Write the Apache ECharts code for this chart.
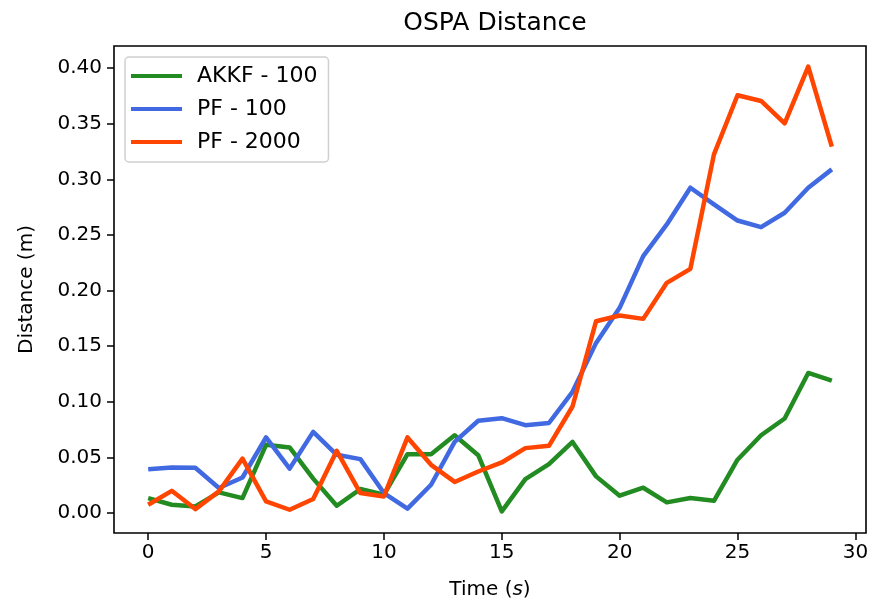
<!DOCTYPE html>
<html>
<head>
<meta charset="utf-8">
<script src="https://cdn.jsdelivr.net/npm/echarts@6/dist/echarts.min.js"></script>
<style>
  html, body { margin: 0; padding: 0; background: #fff; }
  #main { width: 870px; height: 601px; }
</style>
</head>
<body>
<div id="main"></div>
<script>
// time steps (s)
const times = [0, 1, 2, 3, 4, 5, 6, 7, 8, 9, 10, 11, 12, 13, 14, 15, 16, 17, 18, 19, 20, 21, 22, 23, 24, 25, 26, 27, 28, 29];

// OSPA distance per method
const akkf100 = [0.0135, 0.0075, 0.006, 0.0186, 0.0135, 0.0614, 0.059, 0.031, 0.0066, 0.0216,
  0.0165, 0.053, 0.053, 0.070, 0.052, 0.0015, 0.0305, 0.044, 0.064, 0.033,
  0.0156, 0.0228, 0.0096, 0.0135, 0.011, 0.048, 0.070, 0.085, 0.126, 0.119];
const pf100 = [0.0395, 0.041, 0.0407, 0.0225, 0.032, 0.068, 0.040, 0.073, 0.0524, 0.0485,
  0.018, 0.004, 0.0255, 0.064, 0.083, 0.0853, 0.079, 0.081, 0.109, 0.153,
  0.1845, 0.231, 0.2595, 0.2925, 0.2775, 0.263, 0.257, 0.270, 0.2925, 0.309];
const pf2000 = [0.0075, 0.020, 0.0036, 0.0195, 0.049, 0.0105, 0.003, 0.0126, 0.056, 0.018,
  0.015, 0.068, 0.0434, 0.028, 0.0374, 0.0455, 0.0584, 0.0605, 0.0958, 0.1725,
  0.1776, 0.1746, 0.207, 0.2196, 0.3225, 0.3756, 0.3705, 0.3504, 0.4014, 0.3294];

const xTicks = [0, 5, 10, 15, 20, 25, 30];
const yTicks = [0, 0.05, 0.10, 0.15, 0.20, 0.25, 0.30, 0.35, 0.40];

const font = 'DejaVu Sans';
const pairs = vals => times.map((t, i) => [t, vals[i]]);

const chart = echarts.init(document.getElementById('main'));

chart.setOption({
  backgroundColor: '#fff',
  animation: false,
  title: {
    text: 'OSPA Distance',
    left: 490,
    top: 6,
    textAlign: 'center',
    textStyle: { fontFamily: font, fontSize: 25, fontWeight: 'normal', color: '#000' }
  },
  legend: {
    orient: 'vertical',
    left: 125,
    top: 57,
    padding: [8, 11, 9, 6],
    itemWidth: 51,
    itemHeight: 4,
    itemGap: 11,
    icon: 'rect',
    backgroundColor: 'rgba(255,255,255,0.8)',
    borderColor: '#d0d0d0',
    borderWidth: 1.5,
    borderRadius: 4,
    textStyle: { fontFamily: font, fontSize: 22, color: '#000', lineHeight: 22, padding: [0, 0, 0, 10] },
    data: ['AKKF - 100', 'PF - 100', 'PF - 2000']
  },
  grid: {
    left: 114, right: 4, top: 46, bottom: 68,
    outerBoundsMode: 'none',
    containLabel: false,
    show: true,
    borderColor: '#000',
    borderWidth: 1.6,
    backgroundColor: 'transparent'
  },
  xAxis: {
    type: 'value',
    min: -1.45,
    max: 30.45,
    name: 'Time ({i|s})',
    nameLocation: 'middle',
    nameGap: 47,
    nameTextStyle: {
      fontFamily: font, fontSize: 20, color: '#000',
      rich: { i: { fontFamily: font, fontSize: 20, fontStyle: 'italic', color: '#000' } }
    },
    axisLine: { show: false, onZero: false },
    splitLine: { show: false },
    axisTick: { show: true, length: 7, lineStyle: { color: '#000', width: 1.5 }, customValues: xTicks },
    axisLabel: {
      fontFamily: font, fontSize: 20, color: '#000', margin: 10,
      customValues: xTicks,
      formatter: v => String(v)
    }
  },
  yAxis: {
    type: 'value',
    min: -0.0179,
    max: 0.4199,
    name: 'Distance (m)',
    nameLocation: 'middle',
    nameGap: 77,
    nameTextStyle: { fontFamily: font, fontSize: 20, color: '#000' },
    axisLine: { show: false, onZero: false },
    splitLine: { show: false },
    axisTick: { show: true, length: 7, lineStyle: { color: '#000', width: 1.5 }, customValues: yTicks },
    axisLabel: {
      fontFamily: font, fontSize: 20, color: '#000', margin: 12,
      customValues: yTicks,
      formatter: v => v.toFixed(2)
    }
  },
  series: [
    { name: 'AKKF - 100', type: 'line', data: pairs(akkf100), showSymbol: false, symbol: 'none',
      color: '#228B22', lineStyle: { width: 4.5, color: '#228B22', join: 'round' } },
    { name: 'PF - 100', type: 'line', data: pairs(pf100), showSymbol: false, symbol: 'none',
      color: '#4169E1', lineStyle: { width: 4.5, color: '#4169E1', join: 'round' } },
    { name: 'PF - 2000', type: 'line', data: pairs(pf2000), showSymbol: false, symbol: 'none',
      color: '#FF4500', lineStyle: { width: 4.5, color: '#FF4500', join: 'round' } }
  ]
});
</script>
</body>
</html>
